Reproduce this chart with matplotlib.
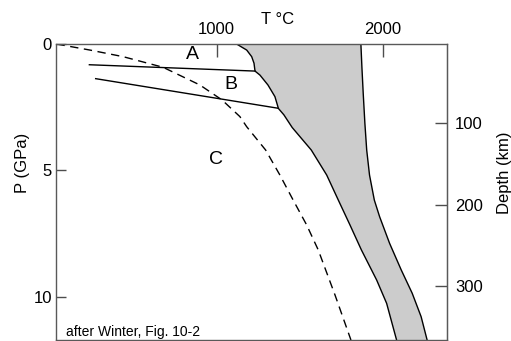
import numpy as np
import matplotlib
matplotlib.use("Agg")
import matplotlib.pyplot as plt

plt.rcParams['font.family'] = ['Liberation Sans', 'DejaVu Sans']

# solidus (left edge of the grey melting band)
sol_T = [1120, 1181, 1211, 1225, 1231, 1261, 1309, 1351, 1369, 1371, 1405, 1455,
         1570, 1663, 1733, 1803, 1872, 1964, 2024, 2084]
sol_P = [0, 0.24, 0.50, 0.76, 1.07, 1.23, 1.62, 2.08, 2.48, 2.54, 2.80, 3.30,
         4.19, 5.18, 6.17, 7.15, 8.14, 9.33, 10.25, 11.70]

# liquidus (right edge)
liq_T = [1869, 1875, 1883, 1893, 1904, 1921, 1950, 1982, 2042, 2112, 2178, 2232, 2268]
liq_P = [0, 0.90, 1.95, 3.13, 4.19, 5.18, 6.17, 6.83, 7.88, 8.93, 9.85, 10.78, 11.70]

# phase boundaries A/B and B/C
ab_T = [233, 1231]
ab_P = [0.82, 1.07]
bc_T = [271, 1371]
bc_P = [1.37, 2.54]

# geotherm (dashed)
geo_T = [35, 237, 436, 677, 899, 1032, 1140, 1181, 1295, 1381, 1461, 1542, 1612, 1713, 1809]
geo_P = [0, 0.24, 0.50, 0.92, 1.62, 2.21, 2.87, 3.27, 4.19, 5.18, 6.17, 7.15, 8.14, 9.92, 11.70]

region_labels = ['A', 'B', 'C']
region_T = [852, 1084, 994]
region_P = [0.43, 1.62, 4.55]

T_ticks = [1000, 2000]
P_ticks = [0, 5, 10]
depth_ticks = [100, 200, 300]


def p2km(p):
    return 31.0 * p + 3.0


def km2p(d):
    return (d - 3.0) / 31.0


W, H = 511, 341
fig = plt.figure(figsize=(W / 100, H / 100), dpi=100)
ax = fig.add_axes([56 / W, 1.5 / H, 390.7 / W, 295.5 / H])

poly_T = sol_T + liq_T[::-1]
poly_P = sol_P + liq_P[::-1]
ax.fill(poly_T, poly_P, color='#cccccc', lw=0)
ax.plot(sol_T, sol_P, color='black', lw=1.0)
ax.plot(liq_T, liq_P, color='black', lw=1.0)
ax.plot(ab_T, ab_P, color='black', lw=1.0)
ax.plot(bc_T, bc_P, color='black', lw=1.0)
ax.plot(geo_T, geo_P, color='black', lw=1.0, ls=(0, (6, 4)))

for lab, t, p in zip(region_labels, region_T, region_P):
    ax.text(t, p, lab, fontsize=14, ha='center', va='center')

ax.text(0.025, 0.026, 'after Winter, Fig. 10-2', transform=ax.transAxes,
        fontsize=10, ha='left', va='center')

ax.set_xlim(32, 2386)
ax.set_ylim(11.68, 0)

ax.xaxis.tick_top()
ax.set_xticks(T_ticks)
ax.set_yticks(P_ticks)
ax.tick_params(axis='x', direction='in', length=9, width=1, color='0.3',
               labelsize=12, pad=5)
ax.tick_params(axis='y', direction='in', length=7.5, width=1, color='0.3',
               labelsize=12, pad=3)
for s in ax.spines.values():
    s.set_color('0.35')
    s.set_linewidth(1.0)

sec = ax.secondary_yaxis('right', functions=(p2km, km2p))
sec.set_yticks(depth_ticks)
sec.tick_params(direction='in', length=9, width=1, color='0.3', labelsize=12, pad=6)
sec.spines['right'].set_color('0.35')

fig.text(278 / W, 1 - 20 / H, 'T \u00b0C', fontsize=12, ha='center', va='center')
fig.text(23 / W, 1 - 163 / H, 'P (GPa)', fontsize=12, rotation=90,
         ha='center', va='center')
fig.text(504 / W, 1 - 173 / H, 'Depth (km)', fontsize=12, rotation=90,
         ha='center', va='center')

fig.savefig('out.png', dpi=100)
